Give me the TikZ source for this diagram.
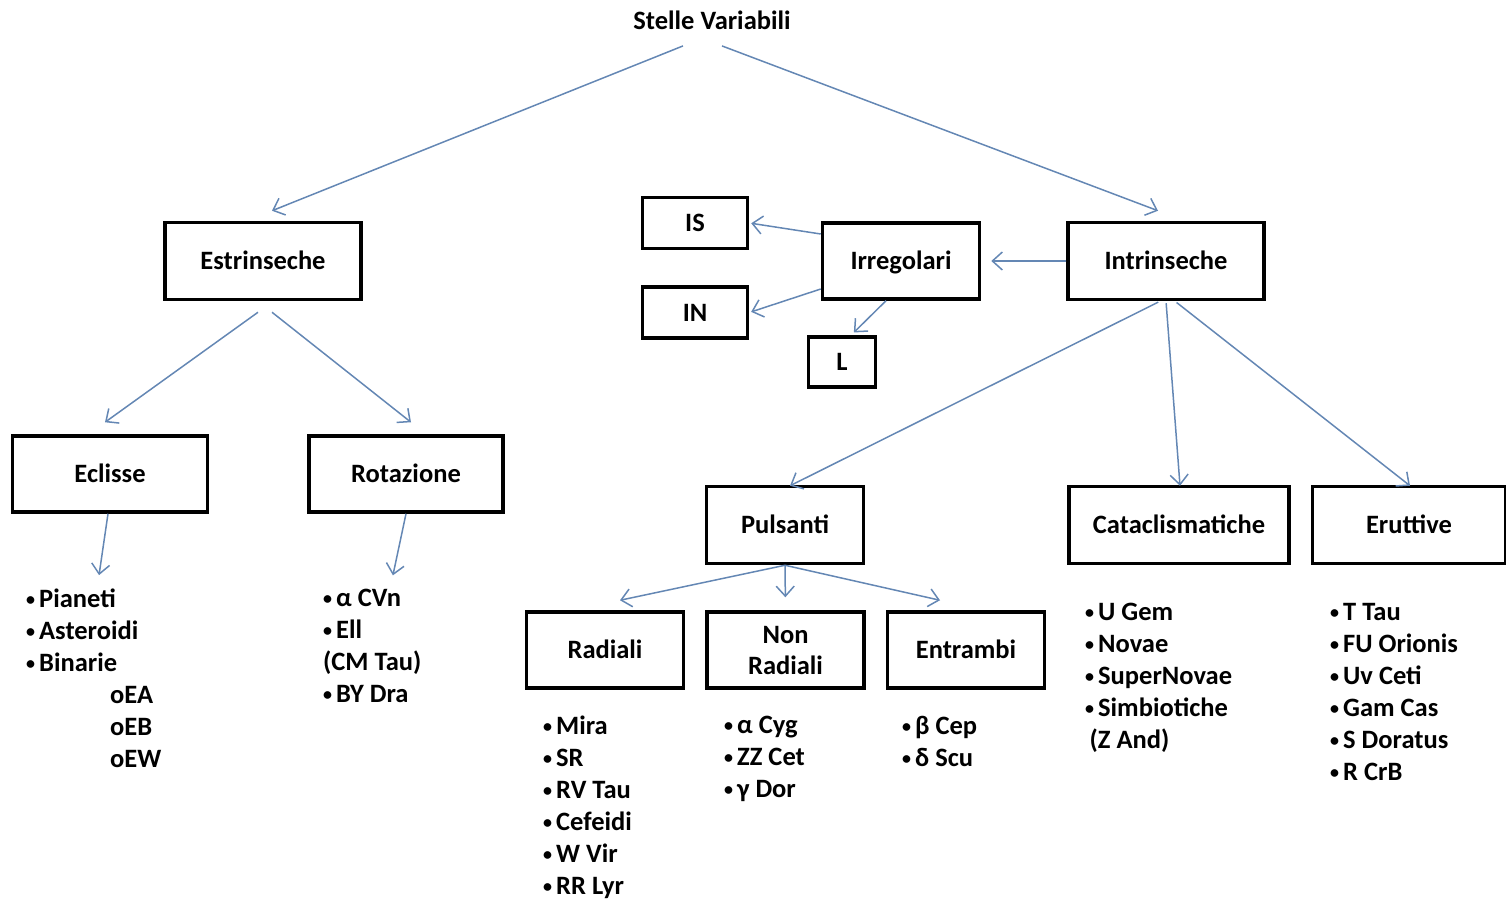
\documentclass[tikz,border=0pt]{standalone}
\usepackage{fontspec}
\setmainfont{Carlito}
\usetikzlibrary{arrows,arrows.meta,positioning}
\definecolor{pilblu}{RGB}{100,135,180}
\tikzset{%
  % Specifications for style of nodes:
            base/.style = {rectangle,draw=black,line width=3.5pt, minimum height=77pt,
                           text centered, text height=17pt, text depth=0pt,
                           font=\fontsize{26.5}{30}\selectfont\bfseries},
      classe/.style = {base, minimum width=196pt},
      gruppo/.style = {base, minimum width=157pt, minimum height=76pt},
     piccolo/.style = {base, minimum width=105pt, minimum height=51pt},
       lista/.style = {align=left, anchor=north west, inner sep=0pt,
                       font=\fontsize{26.5}{32}\selectfont\bfseries},
pil/.style={
           -{Straight Barb[length=10pt,width=18pt]},
           draw=pilblu,
           line width=1.5pt,}
}
\newcommand{\punto}{\raisebox{0.15ex}{\fontsize{18}{18}\selectfont\textbullet}\hspace{4pt}}

\begin{document}
\begin{tikzpicture}[x=1pt,y=-1pt]
\useasboundingbox (0,0) rectangle (1506,900);

\node (titolo) [font=\fontsize{26.5}{30}\selectfont\bfseries] at (712,20) {Stelle Variabili};

\node (estr)  [classe] at (263,261) {Estrinseche};
\node (intr)  [classe] at (1166,261) {Intrinseche};
\node (eclis) [classe, minimum width=195pt, minimum height=76pt] at (110,474) {Eclisse};
\node (rotaz) [classe, minimum width=194pt, minimum height=76pt] at (406,474) {Rotazione};

\node (irreg) [gruppo] at (901,261) {Irregolari};
\node (is)    [piccolo] at (695,223) {IS};
\node (in)    [piccolo, below=35pt of is] {IN};
\node (l)     [piccolo, minimum width=67pt, minimum height=50pt] at (842,362) {L};

\node (puls)  [gruppo, minimum height=77pt] at (785,525) {Pulsanti};
\node (catac) [classe, minimum width=220pt] at (1179,525) {Cataclismatiche};
\node (erutt) [classe, minimum width=193pt] at (1409,525) {Eruttive};

\node (rad)   [gruppo] at (605,650) {Radiali};
\node (nonrad)[gruppo, right=20pt of rad, align=center, text height=, text depth=,
               font=\fontsize{26.5}{31}\selectfont\bfseries] {Non\\Radiali};
\node (entr)  [gruppo, right=20pt of nonrad] {Entrambi};

% liste
\node (l_eclis) [lista] at (26,589) {\punto Pianeti\\ \punto Asteroidi\\ \punto Binarie\\
  \hspace*{84pt}oEA\\ \hspace*{84pt}oEB\\ \hspace*{84pt}oEW};
\node (l_rotaz) [lista] at (323,589) {\punto α CVn\\ \punto Ell\\ (CM Tau)\\ \punto BY Dra};
\node (l_rad)   [lista] at (543,716) {\punto Mira\\ \punto SR\\ \punto RV Tau\\ \punto Cefeidi\\ \punto W Vir\\ \punto RR Lyr};
\node (l_nonrad)[lista] at (724,716) {\punto α Cyg\\ \punto ZZ Cet\\ \punto γ Dor};
\node (l_entr)  [lista] at (902,716) {\punto β Cep\\ \punto δ Scu};
\node (l_catac) [lista] at (1085,603) {\punto U Gem\\ \punto Novae\\ \punto SuperNovae\\ \punto Simbiotiche\\ \,(Z And)};
\node (l_erutt) [lista] at (1330,603) {\punto T Tau\\ \punto FU Orionis\\ \punto Uv Ceti\\ \punto Gam Cas\\ \punto S Doratus\\ \punto R CrB};

\draw[pil] ([xshift=-29pt,yshift=-13pt]titolo.south) -- ([xshift=9pt,yshift=10pt]estr.north);
\draw[pil] ([xshift=10pt,yshift=-13pt]titolo.south) -- ([xshift=-8pt,yshift=10pt]intr.north);

\draw[pil] ([xshift=-5pt,yshift=-11pt]estr.south) -- ([xshift=-5pt,yshift=12pt]eclis.north);
\draw[pil] ([xshift=9pt,yshift=-11pt]estr.south) -- ([xshift=5pt,yshift=12pt]rotaz.north);
\draw[pil, shorten >=14pt] ([xshift=-2pt]eclis.south) -- ([xshift=-13pt]eclis.south |- l_eclis.north);
\draw[pil, shorten >=14pt] (rotaz.south) -- ([xshift=-16pt]rotaz.south |- l_rotaz.north);

\draw[pil, shorten >=10pt] (intr.west) -- (irreg.east);
\draw[pil, shorten >=2pt] ([yshift=27pt]irreg.west) -- (is.east);
\draw[pil, shorten >=2pt] ([yshift=-28pt]irreg.west) -- (in.east);
\draw[pil, shorten >=4pt] ([xshift=-15pt]irreg.south) -- ([xshift=9pt]l.north);

\draw[pil, shorten <=2pt] ([xshift=-6pt]intr.south) -- ([xshift=5pt,yshift=-1pt]puls.north);
\draw[pil, shorten <=2pt] (intr.south) -- ([xshift=1pt,yshift=-1pt]catac.north);
\draw[pil, shorten <=2pt] ([xshift=9pt]intr.south) -- ([xshift=1pt,yshift=-1pt]erutt.north);

\draw[pil] (puls.south) -- ([xshift=15pt,yshift=10pt]rad.north);
\draw[pil, shorten >=13pt] (puls.south) -- (nonrad.north);
\draw[pil] (puls.south) -- ([xshift=-26pt,yshift=10pt]entr.north);

\end{tikzpicture}
\end{document}
